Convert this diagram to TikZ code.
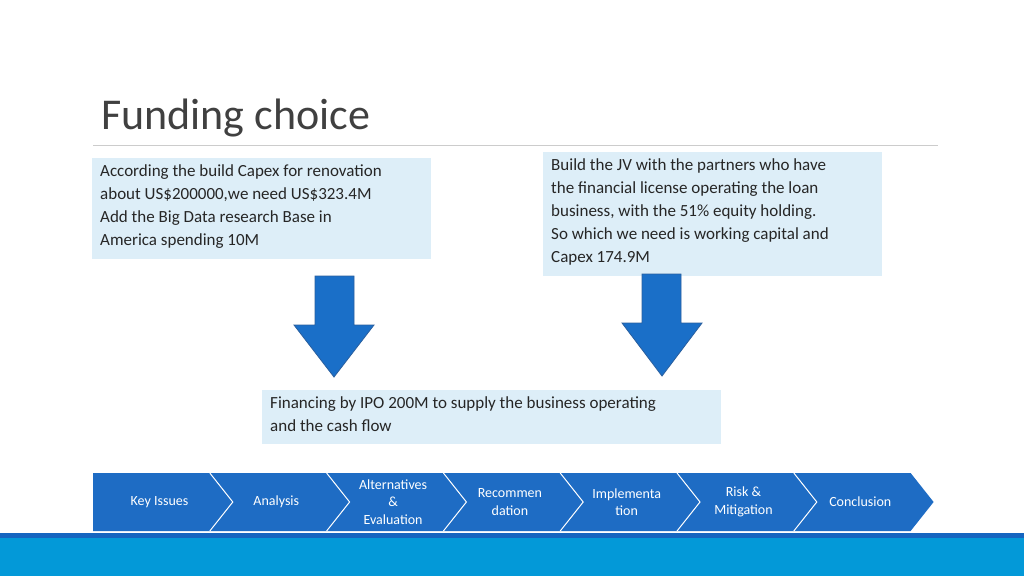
\documentclass[tikz,border=0pt]{standalone}
\usepackage{fontspec}
\setmainfont{Carlito}
\definecolor{boxfill}{HTML}{DDEEF8}
\definecolor{arrblue}{HTML}{1A6FC8}
\definecolor{arredge}{HTML}{2A5F9E}
\definecolor{chev}{HTML}{1E6CC4}
\definecolor{band}{HTML}{0399D8}
\definecolor{bandtop}{HTML}{1565C0}
\definecolor{titlec}{HTML}{404040}
\begin{document}
\begin{tikzpicture}[x=1pt,y=-1pt,
  txtbox/.style={fill=boxfill,draw=none,anchor=north west,align=left,inner sep=0pt,font=\fontsize{17}{23}\selectfont,text=black!85},
  bigarrow/.style={fill=arrblue,draw=arredge,line width=0.8pt},
  chevtxt/.style={text=white,align=center,font=\fontsize{14}{17.5}\selectfont}]
\useasboundingbox (0,0) rectangle (1024,576);
\fill[white] (0,0) rectangle (1024,576);
\node[anchor=base west,inner sep=0pt,text=titlec,font=\fontsize{44}{50}\selectfont] (title) at (101,129) {Funding choice};
\draw[gray!40,line width=1pt] (93,145) -- (938,145);
% boxes
\fill[boxfill] (92,158) rectangle (431,259);
\node[txtbox,fill=none] (b1) at (100,164) {According the build Capex for renovation\\about US\$200000,we need US\$323.4M\\Add the Big Data research Base in\\America spending 10M};
\fill[boxfill] (543,152) rectangle (882,276);
\node[txtbox,fill=none] (b2) at (551,158) {Build the JV with the partners who have\\the financial license operating the loan\\business, with the 51\% equity holding.\\So which we need is working capital and\\Capex 174.9M};
\fill[boxfill] (262,390) rectangle (721,444);
\node[txtbox,fill=none] (b3) at (270,396) {Financing by IPO 200M to supply the business operating\\and the cash flow};
% arrows
\draw[bigarrow] (315,276) -- (354,276) -- (354,325) -- (374,325) -- (334,377) -- (294,325) -- (315,325) -- cycle;
\draw[bigarrow] (642,274) -- (681,274) -- (681,323) -- (702,323) -- (662,376) -- (622,323) -- (642,323) -- cycle;
% band
\fill[band] (0,533) rectangle (1024,576);
\fill[bandtop] (0,533) rectangle (1024,538);
% chevrons
\foreach \i/\t in {0/{Key Issues},1/{Analysis},2/{Alternatives\\\&\\Evaluation},3/{Recommen\\dation},4/{Implementa\\tion},5/{Risk \&\\Mitigation},6/{Conclusion}}{
  \pgfmathsetmacro{\xa}{93+116.8*\i}
  \pgfmathsetmacro{\xb}{\xa+116.8}
  \ifnum\i=0
    \fill[chev] (\xa,473) -- (\xb,473) -- (\xb+23,502) -- (\xb,531) -- (\xa,531) -- cycle;
  \else
    \fill[chev] (\xa,473) -- (\xb,473) -- (\xb+23,502) -- (\xb,531) -- (\xa,531) -- (\xa+23,502) -- cycle;
  \fi
  \node[chevtxt] (c\i) at (\xa+66.5,502) {\t};
}
\foreach \i in {1,...,6}{
  \pgfmathsetmacro{\xa}{93+116.8*\i}
  \draw[white,line width=1pt] (\xa,473) -- (\xa+23,502) -- (\xa,531);
}
\end{tikzpicture}
\end{document}
